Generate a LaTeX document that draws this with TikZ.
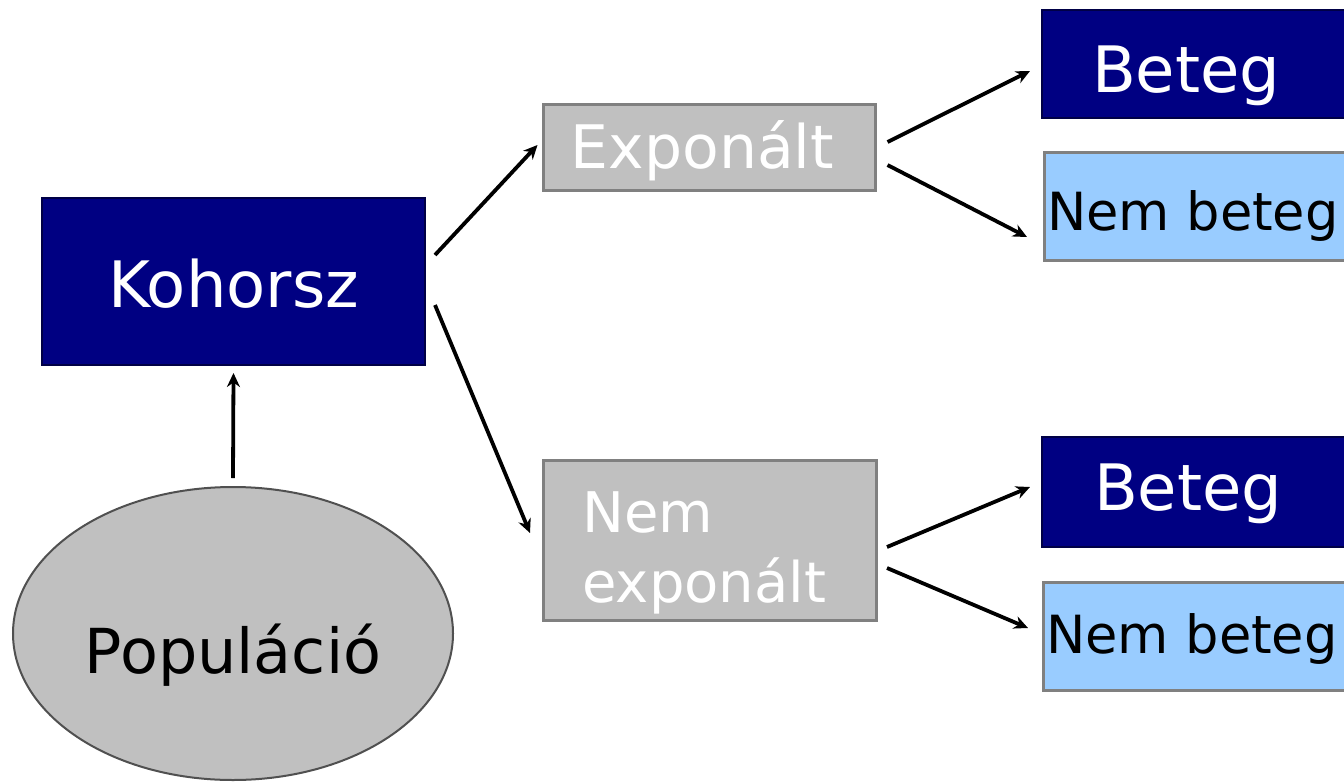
\documentclass[tikz,border=0pt]{standalone}
\usepackage{fontspec}
\setmainfont{DejaVu Sans}
\usetikzlibrary{shapes.geometric,arrows.meta}
\definecolor{navyc}{RGB}{0,0,130}
\definecolor{navyd}{RGB}{0,0,70}
\definecolor{grayc}{RGB}{192,192,192}
\definecolor{grayd}{RGB}{128,128,128}
\definecolor{bluec}{RGB}{153,204,255}
\definecolor{ellc}{RGB}{80,80,80}
\newcommand\bl[2]{\smash{\raisebox{-#1}{#2}}}
\tikzset{
  navybox/.style={rectangle, fill=navyc, draw=navyd, line width=1pt, inner sep=0pt, outer sep=0pt, text=white},
  graybox/.style={rectangle, fill=grayc, draw=grayd, line width=1.5pt, inner sep=0pt, outer sep=0pt, text=white},
  bluebox/.style={rectangle, fill=bluec, draw=grayd, line width=1.5pt, inner sep=0pt, outer sep=0pt, text=black},
  popell/.style={ellipse, fill=grayc, draw=ellc, line width=1pt, inner sep=0pt, outer sep=0pt, text=black},
  arr/.style={-{Stealth[length=7pt,width=6.5pt]}, line width=1.9pt, black}
}
\begin{document}
\begin{tikzpicture}[x=0.5pt,y=-0.5pt]
\useasboundingbox (0,0) rectangle (1344,782);
\clip (0,0) rectangle (1344,782);
\fill[white] (0,0) rectangle (1344,782);
% nodes
\node[navybox, minimum width=191.5pt, minimum height=83.5pt] (koh) at (233.5,281.5)
  {\fontsize{32}{38}\selectfont\bl{12.75pt}{Kohorsz}};
\node[popell, minimum width=220pt, minimum height=146.5pt] (pop) at (233,633.5)
  {\fontsize{31}{37}\selectfont\bl{19.75pt}{Populáció}};
\node[graybox, minimum width=166pt, minimum height=43pt] (exp) at (709.5,147)
  {\fontsize{30}{36}\selectfont\hspace*{-7pt}\bl{10.5pt}{Exponált}};
\node[graybox, minimum width=166.5pt, minimum height=80pt] (nexp) at (709.5,540)
  {\fontsize{28}{35}\selectfont\makebox[166pt][l]{\hspace{19.5pt}\bl{31pt}{\begin{tabular}[b]{@{}l@{}}Nem\\exponált\end{tabular}}}};
\node[navybox, anchor=west, minimum height=54pt] (bet1) at (1042,64)
  {\fontsize{32}{38}\selectfont\makebox[170pt][l]{\hspace{25pt}\bl{14pt}{Beteg}}};
\node[bluebox, anchor=west, minimum height=54pt] (nb1) at (1044,206)
  {\fontsize{26.3}{31}\selectfont\makebox[170pt][l]{\hspace{1.5pt}\bl{12pt}{Nem beteg}}};
\node[navybox, anchor=west, minimum height=55pt] (bet2) at (1042,492)
  {\fontsize{32}{38}\selectfont\makebox[170pt][l]{\hspace{26pt}\bl{9pt}{Beteg}}};
\node[bluebox, anchor=west, minimum height=54pt] (nb2) at (1043,636)
  {\fontsize{26.3}{31}\selectfont\makebox[170pt][l]{\hspace{1.5pt}\bl{8.5pt}{Nem beteg}}};
% connectors
\draw[arr] ([shift={(0,-9)}]pop.north) -- ([shift={(0,8)}]koh.south);
\draw[arr] ([shift={(10,-26.5)}]koh.east) -- ([shift={(-6,-2)}]exp.west);
\draw[arr] ([shift={(10,23.5)}]koh.east) -- ([shift={(-13,-7)}]nexp.west);
\draw[arr] ([shift={(12,-5)}]exp.east) -- ([shift={(-12,7)}]bet1.west);
\draw[arr] ([shift={(12,18)}]exp.east) -- ([shift={(-17,31)}]nb1.west);
\draw[arr] ([shift={(11,7)}]nexp.east) -- ([shift={(-12,-5)}]bet2.west);
\draw[arr] ([shift={(11,28)}]nexp.east) -- ([shift={(-15,-8)}]nb2.west);
\end{tikzpicture}
\end{document}
